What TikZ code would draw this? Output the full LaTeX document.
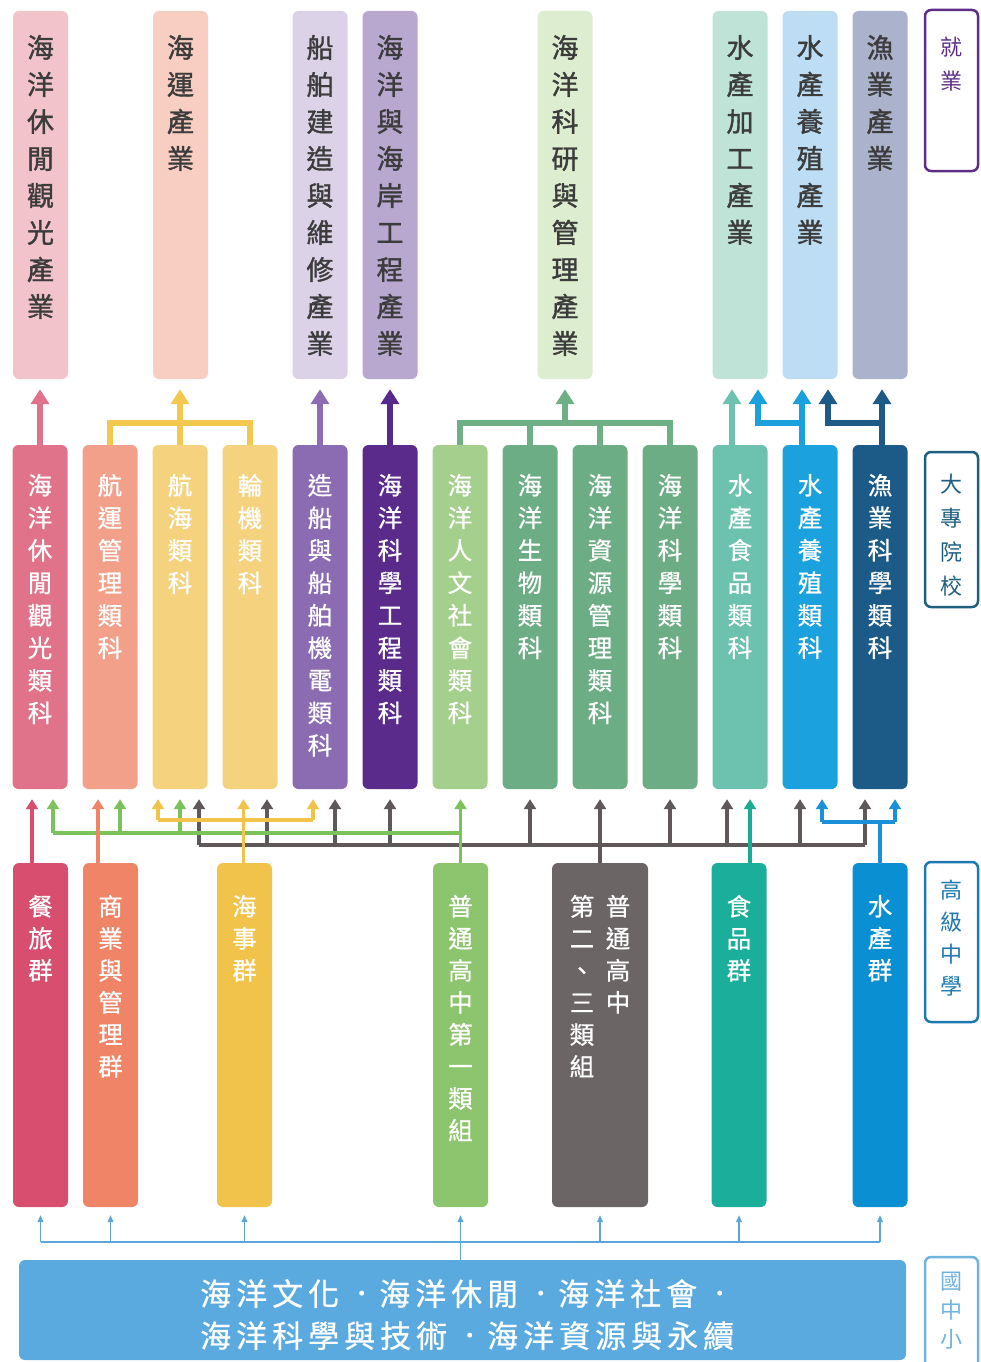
\documentclass[tikz,border=0pt]{standalone}
\usepackage{fontspec}
\setmainfont{Noto Sans CJK TC}
\newfontfamily\cjkmed{Noto Sans CJK TC}[FakeBold=0.7]
\newfontfamily\cjkbold{Noto Sans CJK TC}[FakeBold=1.3]
\usetikzlibrary{arrows.meta}
% top row (jobs)
\definecolor{jA}{HTML}{F2C3CB}
\definecolor{jB}{HTML}{F8CEC2}
\definecolor{jC}{HTML}{DCD2E8}
\definecolor{jD}{HTML}{B8A8D0}
\definecolor{jE}{HTML}{DDEDD0}
\definecolor{jF}{HTML}{BFE3D6}
\definecolor{jG}{HTML}{BCDDF3}
\definecolor{jH}{HTML}{ABB2CB}
\definecolor{txtdark}{HTML}{3C3C3C}
% middle row (colleges)
\definecolor{aPink}{HTML}{E07389}
\definecolor{aSalmon}{HTML}{F2A08A}
\definecolor{aYellow}{HTML}{F5D37E}
\definecolor{aPurple}{HTML}{8B6BB2}
\definecolor{aDPurple}{HTML}{5A2B8A}
\definecolor{aLGreen}{HTML}{A4CF8C}
\definecolor{aGreen}{HTML}{6DAD86}
\definecolor{aTeal}{HTML}{6CC2AF}
\definecolor{aBlue}{HTML}{1BA1DE}
\definecolor{aDBlue}{HTML}{1C5A87}
% connectors row1-2
\definecolor{kPink}{HTML}{E0728A}
\definecolor{kYellow}{HTML}{F2C94E}
\definecolor{kPurple}{HTML}{8C6DB3}
\definecolor{kDPurple}{HTML}{56298A}
\definecolor{kGreen}{HTML}{6FAF86}
\definecolor{kTeal}{HTML}{6CC2AF}
\definecolor{kBlue}{HTML}{1AA0DD}
\definecolor{kDBlue}{HTML}{1D5A88}
% bottom row (senior high)
\definecolor{bRed}{HTML}{D84E6F}
\definecolor{bOrange}{HTML}{EF8467}
\definecolor{bYellow}{HTML}{F2C34B}
\definecolor{bGreen}{HTML}{8CC56D}
\definecolor{bGray}{HTML}{6B6566}
\definecolor{bTeal}{HTML}{1BAE9A}
\definecolor{bBlue}{HTML}{0A8FD3}
% connectors row2-3
\definecolor{dRed}{HTML}{D84E6F}
\definecolor{dGreen}{HTML}{7CC25A}
\definecolor{dOrange}{HTML}{EF8467}
\definecolor{dYellow}{HTML}{F2C34B}
\definecolor{dGray}{HTML}{5E5859}
\definecolor{dTeal}{HTML}{19AC94}
\definecolor{dBlue}{HTML}{1A90D8}
% base
\definecolor{mBlue}{HTML}{5AAAE0}
\definecolor{eBlue}{HTML}{5CA7DA}
% labels
\definecolor{lPurple}{HTML}{5E2E87}
\definecolor{lTealBlue}{HTML}{1F6080}
\definecolor{lBlue}{HTML}{1D7AB0}
\definecolor{lLight}{HTML}{6FB3E0}

\newcommand\spacedtxt[1]{\spacedstep#1\relax}
\def\spacedstep#1{\ifx#1\relax\else#1\hskip5pt\expandafter\spacedstep\fi}
\newcommand\dotsep{\makebox[35pt]{\raisebox{4pt}{\fontsize{22}{22}\selectfont ·}}}

\tikzset{
  bx/.style={rectangle, rounded corners=6pt, inner sep=0pt, minimum width=55pt},
  rowone/.style={bx, minimum height=368pt},
  rowtwo/.style={bx, minimum height=344pt},
  rowthree/.style={bx, minimum height=344pt},
  tone/.style={anchor=north, inner sep=0pt, align=center, text=txtdark, font=\cjkbold\fontsize{27}{37}\selectfont},
  ttwo/.style={anchor=north, inner sep=0pt, align=center, text=white, font=\cjkmed\fontsize{24.5}{32.5}\selectfont},
  tthree/.style={anchor=north, inner sep=0pt, align=center, text=white, font=\cjkmed\fontsize{24.5}{32}\selectfont},
  lab/.style={rectangle, rounded corners=6pt, line width=2.5pt, fill=white, minimum width=53pt, inner sep=0pt},
  labt/.style={anchor=north, inner sep=0pt, align=center},
  carr/.style={line width=5.5pt, -{Triangle[width=18pt,length=15pt]}, shorten >=10pt},
  cline/.style={line width=5.5pt},
  darr/.style={line width=3.5pt, -{Triangle[width=12pt,length=10pt]}, shorten >=10pt},
  dline/.style={line width=3.5pt},
  earr/.style={line width=1.2pt, -{Triangle[width=6pt,length=7pt]}, shorten >=8pt},
  eline/.style={line width=1.2pt},
}

\begin{document}
\begin{tikzpicture}[x=1pt,y=-1pt]
\useasboundingbox (0,0) rectangle (980,1362);

% ---------- row 1 : jobs ----------
\node[rowone,fill=jA] (J1) at (40.5,195) {};
\node[rowone,fill=jB] (J2) at (180.5,195) {};
\node[rowone,fill=jC] (J3) at (320,195) {};
\node[rowone,fill=jD] (J4) at (390,195) {};
\node[rowone,fill=jE] (J5) at (565,195) {};
\node[rowone,fill=jF] (J6) at (740,195) {};
\node[rowone,fill=jG] (J7) at (810,195) {};
\node[rowone,fill=jH] (J8) at (880,195) {};
\node[tone] (J1t) at ([yshift=-24pt]J1.north) {海\\洋\\休\\閒\\觀\\光\\產\\業};
\node[tone] (J2t) at ([yshift=-24pt]J2.north) {海\\運\\產\\業};
\node[tone] (J3t) at ([yshift=-24pt]J3.north) {船\\舶\\建\\造\\與\\維\\修\\產\\業};
\node[tone] (J4t) at ([yshift=-24pt]J4.north) {海\\洋\\與\\海\\岸\\工\\程\\產\\業};
\node[tone] (J5t) at ([yshift=-24pt]J5.north) {海\\洋\\科\\研\\與\\管\\理\\產\\業};
\node[tone] (J6t) at ([yshift=-24pt]J6.north) {水\\產\\加\\工\\產\\業};
\node[tone] (J7t) at ([yshift=-24pt]J7.north) {水\\產\\養\\殖\\產\\業};
\node[tone] (J8t) at ([yshift=-24pt]J8.north) {漁\\業\\產\\業};

% ---------- row 2 : colleges ----------
\node[rowtwo,fill=aPink]    (A1)  at (40,617) {};
\node[rowtwo,fill=aSalmon]  (A2)  at (110,617) {};
\node[rowtwo,fill=aYellow]  (A3)  at (180,617) {};
\node[rowtwo,fill=aYellow]  (A4)  at (250,617) {};
\node[rowtwo,fill=aPurple]  (A5)  at (320,617) {};
\node[rowtwo,fill=aDPurple] (A6)  at (390,617) {};
\node[rowtwo,fill=aLGreen]  (A7)  at (460,617) {};
\node[rowtwo,fill=aGreen]   (A8)  at (530,617) {};
\node[rowtwo,fill=aGreen]   (A9)  at (600,617) {};
\node[rowtwo,fill=aGreen]   (A10) at (670,617) {};
\node[rowtwo,fill=aTeal]    (A11) at (740,617) {};
\node[rowtwo,fill=aBlue]    (A12) at (810,617) {};
\node[rowtwo,fill=aDBlue]   (A13) at (880,617) {};
\node[ttwo] (A1t)  at ([yshift=-29pt]A1.north)  {海\\洋\\休\\閒\\觀\\光\\類\\科};
\node[ttwo] (A2t)  at ([yshift=-29pt]A2.north)  {航\\運\\管\\理\\類\\科};
\node[ttwo] (A3t)  at ([yshift=-29pt]A3.north)  {航\\海\\類\\科};
\node[ttwo] (A4t)  at ([yshift=-29pt]A4.north)  {輪\\機\\類\\科};
\node[ttwo] (A5t)  at ([yshift=-29pt]A5.north)  {造\\船\\與\\船\\舶\\機\\電\\類\\科};
\node[ttwo] (A6t)  at ([yshift=-29pt]A6.north)  {海\\洋\\科\\學\\工\\程\\類\\科};
\node[ttwo] (A7t)  at ([yshift=-29pt]A7.north)  {海\\洋\\人\\文\\社\\會\\類\\科};
\node[ttwo] (A8t)  at ([yshift=-29pt]A8.north)  {海\\洋\\生\\物\\類\\科};
\node[ttwo] (A9t)  at ([yshift=-29pt]A9.north)  {海\\洋\\資\\源\\管\\理\\類\\科};
\node[ttwo] (A10t) at ([yshift=-29pt]A10.north) {海\\洋\\科\\學\\類\\科};
\node[ttwo] (A11t) at ([yshift=-29pt]A11.north) {水\\產\\食\\品\\類\\科};
\node[ttwo] (A12t) at ([yshift=-29pt]A12.north) {水\\產\\養\\殖\\類\\科};
\node[ttwo] (A13t) at ([yshift=-29pt]A13.north) {漁\\業\\科\\學\\類\\科};

% ---------- row 3 : senior high ----------
\node[rowthree,fill=bRed]    (B1) at (40.5,1035) {};
\node[rowthree,fill=bOrange] (B2) at (110.5,1035) {};
\node[rowthree,fill=bYellow] (B3) at (244.5,1035) {};
\node[rowthree,fill=bGreen]  (B4) at (460.5,1035) {};
\node[rowthree,fill=bGray,minimum width=96pt] (B5) at (600,1035) {};
\node[rowthree,fill=bTeal]   (B6) at (739,1035) {};
\node[rowthree,fill=bBlue]   (B7) at (880,1035) {};
\node[tthree] (B1t) at ([yshift=-32pt]B1.north) {餐\\旅\\群};
\node[tthree] (B2t) at ([yshift=-32pt]B2.north) {商\\業\\與\\管\\理\\群};
\node[tthree] (B3t) at ([yshift=-32pt]B3.north) {海\\事\\群};
\node[tthree] (B4t) at ([yshift=-32pt]B4.north) {普\\通\\高\\中\\第\\一\\類\\組};
\node[tthree] (B5r) at ([xshift=18pt,yshift=-32pt]B5.north) {普\\通\\高\\中};
\node[tthree] (B5l) at ([xshift=-18pt,yshift=-32pt]B5.north) {第\\二\\、\\三\\類\\組};
\node[tthree] (B6t) at ([yshift=-32pt]B6.north) {食\\品\\群};
\node[tthree] (B7t) at ([yshift=-32pt]B7.north) {水\\產\\群};

% ---------- base ----------
\node[rectangle, rounded corners=6pt, fill=mBlue, minimum width=887pt, minimum height=100pt, inner sep=0pt] (M) at (462.5,1310) {};
\node[anchor=north west, inner sep=0pt, align=left, text=white, font=\cjkmed\fontsize{31}{42}\selectfont] (Mt) at (200,1279)
  {\spacedtxt{海洋文化}\dotsep\spacedtxt{海洋休閒}\dotsep\spacedtxt{海洋社會}\dotsep\\
   \spacedtxt{海洋科學與技術}\dotsep\spacedtxt{海洋資源與永續}};

% ---------- side labels ----------
\node[lab,draw=lPurple,minimum height=161pt]   (L1) at (951.5,90.5) {};
\node[lab,draw=lTealBlue,minimum height=155pt] (L2) at (951.5,529.5) {};
\node[lab,draw=lBlue,minimum height=160pt]     (L3) at (951.5,942) {};
\node[lab,draw=lLight,minimum height=118pt]    (L4) at (951.5,1316) {};
\node[labt,text=lPurple,font=\fontsize{22}{34}\selectfont]   (L1t) at ([yshift=-28pt]L1.north) {就\\業};
\node[labt,text=lTealBlue,font=\fontsize{22}{34}\selectfont] (L2t) at ([yshift=-23pt]L2.north) {大\\專\\院\\校};
\node[labt,text=lBlue,font=\fontsize{22}{32}\selectfont]     (L3t) at ([yshift=-19pt]L3.north) {高\\級\\中\\學};
\node[labt,text=lLight,font=\fontsize{22}{29}\selectfont]    (L4t) at ([yshift=-16pt]L4.north) {國\\中\\小};

% ---------- connectors row 2 -> row 1 ----------
\coordinate (h1) at (0,423);
\draw[carr,draw=kPink] (A1.north) -- (A1.north |- J1.south);
\draw[cline,draw=kYellow] (A2.north) -- (A2.north |- h1) -- (A4.north |- h1) -- (A4.north);
\draw[carr,draw=kYellow] (A3.north) -- (A3.north |- J2.south);
\draw[carr,draw=kPurple] (A5.north) -- (A5.north |- J3.south);
\draw[carr,draw=kDPurple] (A6.north) -- (A6.north |- J4.south);
\draw[cline,draw=kGreen] (A7.north) -- (A7.north |- h1) -- (A10.north |- h1) -- (A10.north);
\draw[cline,draw=kGreen] (A8.north) -- (A8.north |- h1);
\draw[cline,draw=kGreen] (A9.north) -- (A9.north |- h1);
\draw[carr,draw=kGreen] (J5.south |- h1) -- (J5.south);
\coordinate (tJ6) at ([xshift=-8pt]J6.south);
\coordinate (bJ6) at ([xshift=18pt]J6.south);
\coordinate (bJ7) at ([xshift=-8pt]J7.south);
\coordinate (dJ7) at ([xshift=18pt]J7.south);
\coordinate (dJ8) at ([xshift=2pt]J8.south);
\draw[carr,draw=kTeal] (tJ6 |- A11.north) -- (tJ6);
\draw[carr,draw=kBlue] (bJ7 |- A12.north) -- (bJ7);
\draw[carr,draw=kBlue] (bJ7 |- h1) -| (bJ6);
\draw[carr,draw=kDBlue] (dJ8 |- A13.north) -- (dJ8);
\draw[carr,draw=kDBlue] (dJ8 |- h1) -| (dJ7);

% ---------- connectors row 3 -> row 2 ----------
\coordinate (hy) at (0,820);
\coordinate (hg) at (0,833);
\coordinate (hk) at (0,845);
\coordinate (hb) at (0,822);
% gray
\coordinate (kA3) at ([xshift=19pt]A3.south);
\coordinate (kA4) at ([xshift=17pt]A4.south);
\coordinate (kA5) at ([xshift=15pt]A5.south);
\coordinate (kA6) at (A6.south);
\coordinate (kA8) at (A8.south);
\coordinate (kA10) at (A10.south);
\coordinate (kA11) at ([xshift=-13pt]A11.south);
\coordinate (kA12) at ([xshift=-10pt]A12.south);
\coordinate (kA13) at ([xshift=-15pt]A13.south);
\draw[dline,draw=dGray] (kA3 |- hk) -- (kA13 |- hk);
\foreach \p in {kA3,kA4,kA5,kA6,kA8,kA10,kA11,kA12,kA13}
  \draw[darr,draw=dGray] (\p |- hk) -- (\p);
\draw[darr,draw=dGray] (B5.north) -- (A9.south);
% green
\coordinate (gA1) at ([xshift=13pt]A1.south);
\coordinate (gA2) at ([xshift=10pt]A2.south);
\coordinate (gA3) at (A3.south);
\draw[dline,draw=dGreen] (gA1 |- hg) -- (B4.north |- hg);
\foreach \p in {gA1,gA2,gA3}
  \draw[darr,draw=dGreen] (\p |- hg) -- (\p);
\draw[darr,draw=dGreen] (B4.north) -- (B4.north |- A7.south);
% yellow
\coordinate (yA3) at ([xshift=-22pt]A3.south);
\coordinate (yA4) at ([xshift=-6.5pt]A4.south);
\coordinate (yA5) at ([xshift=-7pt]A5.south);
\draw[dline,draw=dYellow] (yA3 |- hy) -- (yA5 |- hy);
\draw[darr,draw=dYellow] (yA3 |- hy) -- (yA3);
\draw[darr,draw=dYellow] (yA5 |- hy) -- (yA5);
\draw[darr,draw=dYellow] (yA4 |- B3.north) -- (yA4);
% red, orange, teal
\coordinate (rA1) at ([xshift=-8pt]A1.south);
\coordinate (oA2) at ([xshift=-12pt]A2.south);
\coordinate (tA11) at ([xshift=10pt]A11.south);
\draw[darr,draw=dRed] (rA1 |- B1.north) -- (rA1);
\draw[darr,draw=dOrange] (oA2 |- B2.north) -- (oA2);
\draw[darr,draw=dTeal] (tA11 |- B6.north) -- (tA11);
% blue
\coordinate (bA12) at ([xshift=12pt]A12.south);
\coordinate (bA13) at ([xshift=15pt]A13.south);
\draw[dline,draw=dBlue] (B7.north) -- (B7.north |- hb);
\draw[dline,draw=dBlue] (bA12 |- hb) -- (bA13 |- hb);
\draw[darr,draw=dBlue] (bA12 |- hb) -- (bA12);
\draw[darr,draw=dBlue] (bA13 |- hb) -- (bA13);

% ---------- connectors base -> row 3 ----------
\coordinate (hm) at (0,1242);
\draw[eline,draw=eBlue] (B4.south |- M.north) -- (B4.south |- hm);
\draw[eline,draw=eBlue] (B1.south |- hm) -- (B7.south |- hm);
\foreach \b in {B1,B2,B3,B4,B5,B6,B7}
  \draw[earr,draw=eBlue] (\b.south |- hm) -- (\b.south);
\end{tikzpicture}
\end{document}
